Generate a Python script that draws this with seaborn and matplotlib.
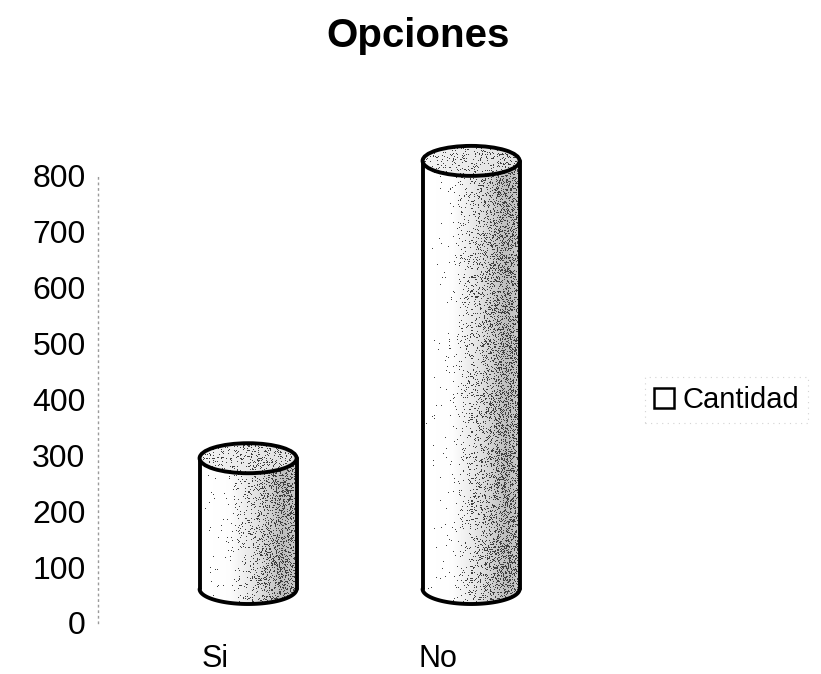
import numpy as np
import pandas as pd
import matplotlib
matplotlib.use("Agg")
import matplotlib.pyplot as plt
import matplotlib.transforms as mtransforms
from matplotlib.patches import Ellipse, Polygon, Patch
from matplotlib import font_manager
import seaborn as sns

# Datos
categorias = ["Si", "No"]
cantidad = [234, 766]
serie = "Cantidad"
titulo = "Opciones"
marcas_y = [0, 100, 200, 300, 400, 500, 600, 700, 800]

sns.set_theme(style="white")
disponibles = {f.name for f in font_manager.fontManager.ttflist}
fuente = "Liberation Sans Narrow" if "Liberation Sans Narrow" in disponibles else "Liberation Sans"
plt.rcParams["font.family"] = [fuente, "DejaVu Sans"]
plt.rcParams["text.color"] = "black"
plt.rcParams["xtick.color"] = "black"
plt.rcParams["ytick.color"] = "black"

W, H = 821, 674
fig = plt.figure(figsize=(W / 100, H / 100), dpi=100)
ax = fig.add_axes([98 / W, 51 / H, 502 / W, 503 / H])

df = pd.DataFrame({"Opción": categorias, serie: cantidad})
sns.barplot(data=df, x="Opción", y=serie, ax=ax, width=0.435, color="white")
ax.set_xlim(-0.525, 1.726)
ax.set_ylim(0, 900)

# Desplazamiento oblicuo de profundidad (efecto 3D)
prof = mtransforms.ScaledTranslation(0.33, 0.34, fig.dpi_scale_trans)
trans = ax.transData + prof

ey = 15 * 900 / 503  # semieje vertical de las elipses (unidades de datos)
rng = np.random.default_rng(7)


def textura(nx, ny, perfil, fuerza, tono):
    u = np.linspace(0, 1, nx)
    d = perfil(u)[None, :] * np.ones((ny, 1))
    base = 1 - tono * d
    puntos = rng.random((ny, nx)) < d * fuerza
    return np.where(puntos, 0.25, base)


def perfil_cuerpo(u):
    return np.interp(u, [0, 0.3, 0.55, 0.85, 1.0], [0.0, 0.03, 0.35, 0.85, 0.7])


def perfil_tapa(u):
    return np.interp(u, [0, 0.5, 1.0], [0.2, 0.35, 0.5])


for p in list(ax.patches):
    x0, w, h = p.get_x(), p.get_width(), p.get_height()
    p.set_visible(False)
    cx = x0 + w / 2
    t = np.linspace(np.pi, 2 * np.pi, 60)
    arco = np.column_stack([cx + w / 2 * np.cos(t), ey * np.sin(t)])
    cuerpo = np.vstack([[x0, h], arco, [x0 + w, h]])

    poly = Polygon(cuerpo, closed=True, transform=trans, facecolor="none", edgecolor="none")
    ax.add_patch(poly)
    ny = int((h + 2 * ey) / 900 * 503) + 2
    im = ax.imshow(textura(97, ny, perfil_cuerpo, 0.38, 0.3), cmap="gray", vmin=0, vmax=1,
                   extent=[x0, x0 + w, -ey, h + ey], transform=trans, aspect="auto",
                   interpolation="nearest", zorder=2)
    im.set_clip_path(poly)

    # contorno del cuerpo
    ax.plot(arco[:, 0], arco[:, 1], color="black", lw=2.8, transform=trans, zorder=3,
            solid_capstyle="round")
    ax.plot([x0, x0], [0, h], color="black", lw=2.8, transform=trans, zorder=3)
    ax.plot([x0 + w, x0 + w], [0, h], color="black", lw=2.8, transform=trans, zorder=3)

    # tapa superior
    tapa = Ellipse((cx, h), w, 2 * ey, transform=trans, facecolor="white",
                   edgecolor="none", zorder=4)
    ax.add_patch(tapa)
    im2 = ax.imshow(textura(97, 32, perfil_tapa, 0.4, 0.25), cmap="gray", vmin=0, vmax=1,
                    extent=[x0, x0 + w, h - ey, h + ey], transform=trans, aspect="auto",
                    interpolation="nearest", zorder=5)
    im2.set_clip_path(tapa)
    ax.add_patch(Ellipse((cx, h), w, 2 * ey, transform=trans, facecolor="none",
                         edgecolor="black", lw=2.8, zorder=6))

# Ejes
for lado in ["top", "right", "bottom"]:
    ax.spines[lado].set_visible(False)
ax.spines["left"].set_color("#9a9a9a")
ax.spines["left"].set_linestyle((0, (1, 3)))
ax.spines["left"].set_linewidth(1.0)
ax.spines["left"].set_bounds(0, 800)
ax.set_yticks(marcas_y)
ax.set_yticklabels([str(v) for v in marcas_y], fontsize=23)
ax.tick_params(axis="y", length=0, pad=9)
ax.tick_params(axis="x", length=0, pad=15, labelsize=22)
ax.set_xlabel("")
ax.set_ylabel("")
ax.grid(False)

fig.text(418 / W, 1 - 47 / H, titulo, ha="center", va="baseline",
         fontsize=29, fontweight="bold")

leg = fig.legend(handles=[Patch(facecolor="white", edgecolor="black", lw=1.8, label=serie)],
                 loc="center left", bbox_to_anchor=(645 / W, 1 - 400 / H),
                 fontsize=21, handlelength=0.7, handleheight=0.7, handletextpad=0.3,
                 borderpad=0.3, borderaxespad=0, frameon=True, fancybox=False)
leg.get_frame().set_edgecolor("#c8c8c8")
leg.get_frame().set_linestyle((0, (1, 4)))
leg.get_frame().set_linewidth(0.8)

fig.savefig("out.png", dpi=100, facecolor="white")
